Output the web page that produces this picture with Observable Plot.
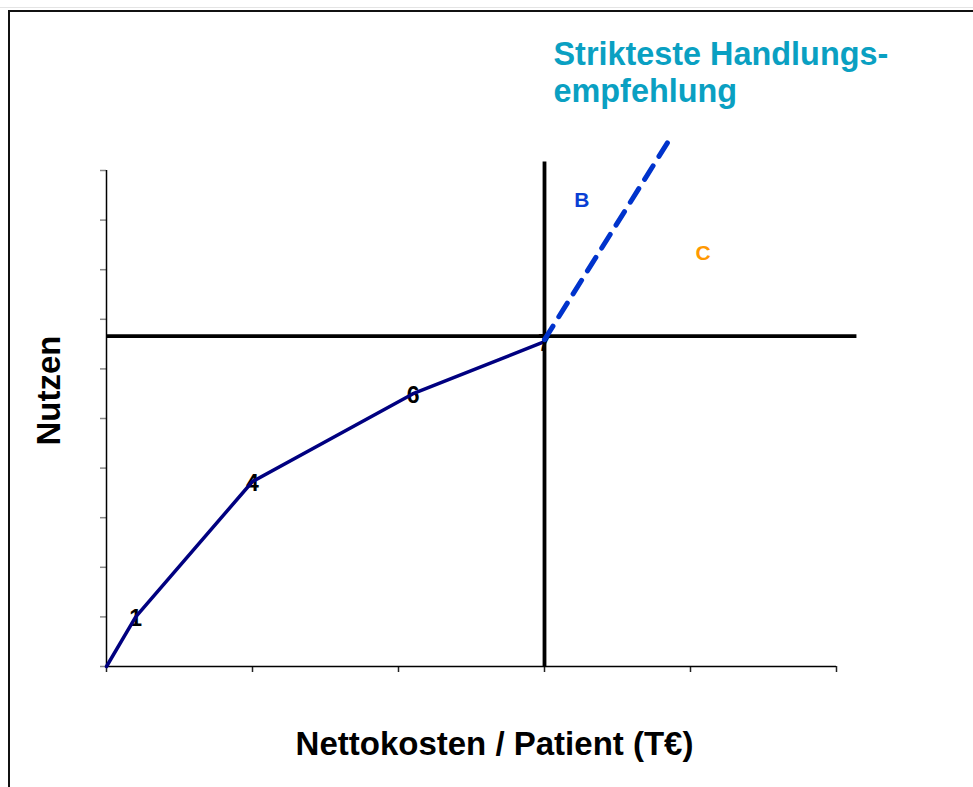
<!DOCTYPE html>
<html><head><meta charset="utf-8">
<script src="https://cdn.jsdelivr.net/npm/d3@7"></script>
<script src="https://cdn.jsdelivr.net/npm/@observablehq/plot@0.6"></script>
<style>
html,body{margin:0;padding:0;background:#fff;overflow:hidden;width:973px;height:787px}
#topline{position:absolute;left:0;top:7px;width:973px;height:1px;background:#e4e4e4}
#frame{position:absolute;left:7.5px;top:9.5px;width:1200px;height:1200px;border-left:2px solid #111;border-top:2px solid #111}
#chart{position:absolute;left:0;top:0}
</style></head><body>
<div id="topline"></div><div id="frame"></div><div id="chart"></div>
<script>
// Kostenkurve (Nettokosten in T€, Nutzen)
const curveCost    = [0, 0.2, 1.0, 2.1, 3.0];
const curveBenefit = [0, 1.0, 3.73, 5.5, 6.55];
const curveLabels  = ["", "1", "4", "6", "7"];
// strikteste Handlungsempfehlung (gestrichelt)
const strictCost    = [3.0, 3.87];
const strictBenefit = [6.59, 10.69];
// Schwellenlinien
const thresholdBenefit = [6.66];
const thresholdCost = [3.0];
const thresholdBenefitEnd = 5.14;
const thresholdCostTop = 10.17;
// Bereichsbeschriftungen
const regionNames = ["B", "C"];
const regionCost = [3.255, 4.087];
const regionBenefit = [9.4, 8.33];
const regionColors = ["#0a3fd4", "#ff9900"];
// Achsen
const xTicks = [0, 1, 2, 3, 4, 5];
const yTicks = [0, 1, 2, 3, 4, 5, 6, 7, 8, 9, 10];
const title = "Strikteste Handlungs-\nempfehlung";
const xLabel = "Nettokosten / Patient (T€)";
const yLabel = "Nutzen";

const curve = curveCost.map((c, i) => ({cost: c, benefit: curveBenefit[i], label: curveLabels[i]}));
const strict = strictCost.map((c, i) => ({cost: c, benefit: strictBenefit[i]}));
const regions = regionNames.map((n, i) => ({name: n, cost: regionCost[i], benefit: regionBenefit[i], color: regionColors[i]}));
const font = "'Liberation Sans', Arial, Helvetica, sans-serif";

const chart = Plot.plot({
  width: 973, height: 787,
  marginLeft: 106, marginRight: 137, marginTop: 170, marginBottom: 121,
  x: {domain: [0, 5]},
  y: {domain: [0, 10]},
  style: {background: "transparent", fontFamily: font},
  marks: [
    Plot.axisX({ticks: xTicks, tickSize: 6, tickFormat: () => "", stroke: "#222", strokeWidth: 1.5, label: null}),
    Plot.axisY({ticks: yTicks, tickSize: 6, tickFormat: () => "", stroke: "#888", strokeWidth: 1.5, label: null}),
    Plot.ruleY([0], {x1: 0, x2: 5, stroke: "#000", strokeWidth: 1.5}),
    Plot.ruleX([0], {y1: 0, y2: 10, stroke: "#000", strokeWidth: 1.5}),
    Plot.text(curve, {x: "cost", y: "benefit", text: "label", fontSize: 23, fontWeight: "bold", fill: "#000", dy: 2}),
    Plot.line(curve, {x: "cost", y: "benefit", stroke: "#000080", strokeWidth: 3.5}),
    Plot.ruleY(thresholdBenefit, {x1: 0, x2: thresholdBenefitEnd, stroke: "#000", strokeWidth: 3.8}),
    Plot.ruleX(thresholdCost, {y1: 0, y2: thresholdCostTop, stroke: "#000", strokeWidth: 3.8}),
    Plot.line(strict, {x: "cost", y: "benefit", stroke: "#0033cc", strokeWidth: 5, strokeDasharray: "16,11"}),
    Plot.text(regions, {x: "cost", y: "benefit", text: "name", fill: "color", fontSize: 21, fontWeight: "bold"}),
    Plot.text([title], {text: d => d, frameAnchor: "top-left", textAnchor: "start", lineAnchor: "top", dx: 447, dy: -132, fontSize: 32.4, fontWeight: "bold", lineHeight: 1.14, fill: "#0aa0c2"}),
    Plot.text([xLabel], {text: d => d, frameAnchor: "bottom", textAnchor: "middle", lineAnchor: "bottom", dx: 23, dy: 88, fontSize: 33, fontWeight: "bold", fill: "#000"}),
    Plot.text([yLabel], {text: d => d, frameAnchor: "left", textAnchor: "middle", lineAnchor: "bottom", rotate: -90, dx: -47, dy: -28, fontSize: 33, fontWeight: "bold", fill: "#000"})
  ]
});
document.getElementById("chart").appendChild(chart);
</script>
</body></html>
